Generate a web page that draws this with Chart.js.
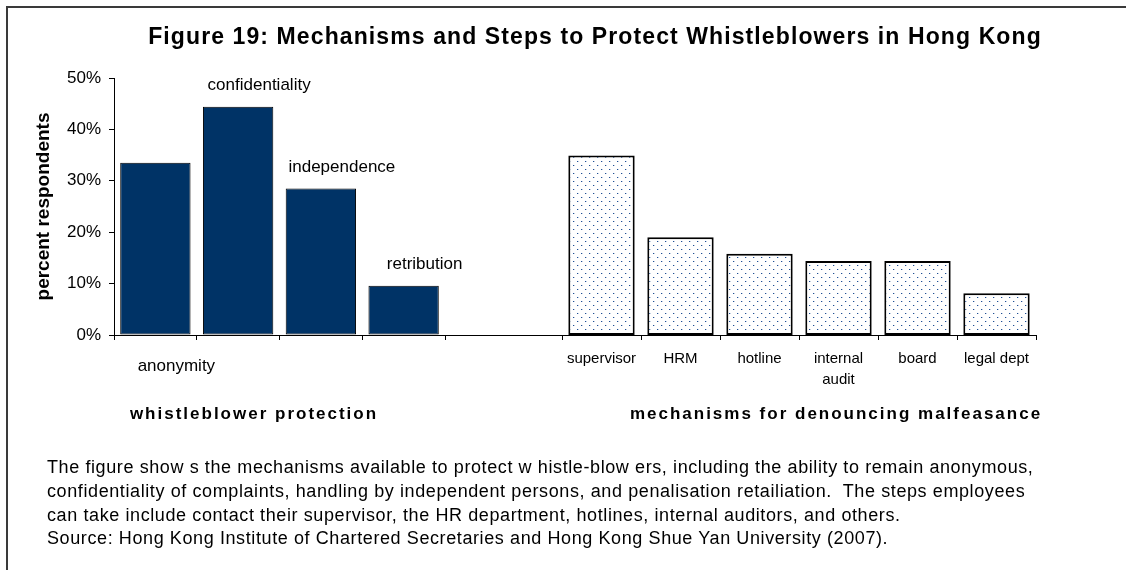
<!DOCTYPE html>
<html>
<head>
<meta charset="utf-8">
<script src="https://cdn.jsdelivr.net/npm/chart.js@4.4.1/dist/chart.umd.min.js"></script>
<style>
html,body{margin:0;padding:0;background:#fff;width:1126px;height:570px;overflow:hidden;}
#wrap{position:relative;width:1126px;height:570px;font-family:"Liberation Sans",Arial,sans-serif;color:#000;}
canvas{position:absolute;left:0;top:0;}
.frame{position:absolute;left:6px;top:6px;width:1200px;height:600px;border-top:2px solid #3a3a3a;border-left:2px solid #3a3a3a;}
.title{position:absolute;top:23px;left:0;width:1190px;text-align:center;font-weight:bold;font-size:23px;letter-spacing:1.1px;white-space:nowrap;line-height:26px;}
.group{position:absolute;top:403px;width:500px;text-align:center;font-weight:bold;font-size:17px;letter-spacing:2px;white-space:nowrap;line-height:22px;}
.cap{position:absolute;left:47px;font-size:18px;letter-spacing:0.6px;white-space:pre;line-height:20px;}
</style>
</head>
<body>
<div id="wrap">
  <div class="frame"></div>
  <canvas id="c1" width="1126" height="570"></canvas>
  <canvas id="c2" width="1126" height="570"></canvas>
  <div class="title" id="title"></div>
  <div class="group" id="g1" style="left:4px"></div>
  <div class="group" id="g2" style="left:586px"></div>
  <div class="cap" id="cap0" style="top:457px"></div>
  <div class="cap" id="cap1" style="top:481px"></div>
  <div class="cap" id="cap2" style="top:505px"></div>
  <div class="cap" id="cap3" style="top:528px"></div>
</div>
<script>
// ---- data ----
const titleText = 'Figure 19: Mechanisms and Steps to Protect Whistleblowers in Hong Kong';
const yAxisTitle = 'percent respondents';
const protectionLabels = ['anonymity', 'confidentiality', 'independence', 'retribution'];
const protectionValues = [33.5, 44.4, 28.5, 9.6];
const mechanismLabels = ['supervisor', 'HRM', 'hotline', ['internal', 'audit'], 'board', 'legal dept'];
const mechanismValues = [34.9, 19.0, 15.8, 14.4, 14.4, 8.1];
const yMin = 0, yMax = 50, yStep = 10;
const groupTitles = ['whistleblower protection', 'mechanisms for denouncing malfeasance'];
const captionLines = [
  'The figure show s the mechanisms available to protect w histle-blow ers, including the ability to remain anonymous,',
  'confidentiality of complaints, handling by independent persons, and penalisation retailiation.  The steps employees',
  'can take include contact their supervisor, the HR department, hotlines, internal auditors, and others.',
  'Source: Hong Kong Institute of Chartered Secretaries and Hong Kong Shue Yan University (2007).'
];

// ---- text ----
document.getElementById('title').textContent = titleText;
document.getElementById('g1').textContent = groupTitles[0];
document.getElementById('g2').textContent = groupTitles[1];
captionLines.forEach((t, i) => { document.getElementById('cap' + i).textContent = t; });

// ---- layout ----
const FONT = '"Liberation Sans", Arial, sans-serif';
const W = 1126, H = 570;
const plotTop = 78, plotBottom = 335;
const leftArea = [114, 445];
const rightArea = [562, 1036];

// dotted pattern for second group
const pc = document.createElement('canvas');
pc.width = 8; pc.height = 8;
const pctx = pc.getContext('2d');
pctx.fillStyle = '#ffffff'; pctx.fillRect(0, 0, 8, 8);
pctx.fillStyle = '#1f4f95';
pctx.fillRect(1, 1, 1, 1); pctx.fillRect(5, 5, 1, 1);
pctx.fillStyle = '#c4d0e2';
pctx.fillRect(2, 1, 1, 1); pctx.fillRect(6, 5, 1, 1);
const dotPattern = pctx.createPattern(pc, 'repeat');

const barLabels = {
  id: 'barLabels',
  afterDatasetsDraw(chart) {
    const ctx = chart.ctx;
    const meta = chart.getDatasetMeta(0);
    ctx.save();
    ctx.font = '17px ' + FONT;
    ctx.fillStyle = '#000';
    ctx.textAlign = 'center';
    ctx.textBaseline = 'middle';
    meta.data.forEach((bar, i) => {
      const x = bar.x + 21;
      const y = i === 0 ? chart.chartArea.bottom + 31 : bar.y - 21;
      ctx.fillText(chart.data.labels[i], x, y);
    });
    ctx.restore();
  }
};

const leftChart = new Chart(document.getElementById('c1'), {
  type: 'bar',
  data: {
    labels: protectionLabels,
    datasets: [{
      data: protectionValues,
      backgroundColor: '#003366',
      borderColor: '#000',
      borderWidth: 1,
      borderSkipped: false,
      barPercentage: 0.85,
      categoryPercentage: 1
    }]
  },
  options: {
    responsive: false, animation: false, events: [],
    layout: { padding: { left: 0, top: plotTop, right: W - leftArea[1], bottom: H - plotBottom - 40 } },
    plugins: { legend: { display: false }, tooltip: { enabled: false } },
    scales: {
      x: {
        ticks: { display: false },
        grid: { drawOnChartArea: false, tickLength: 5, color: '#000', offset: true },
        border: { color: '#000', width: 1 },
        afterFit(s) { s.height = 40; }
      },
      y: {
        min: yMin, max: yMax,
        ticks: { stepSize: yStep, callback: v => v + '%', color: '#000', font: { family: FONT, size: 17 }, padding: 8 },
        grid: { drawOnChartArea: false, tickLength: 5, color: '#000' },
        border: { color: '#000', width: 1 },
        title: { display: true, text: yAxisTitle, color: '#000', font: { family: FONT, size: 19, weight: 'bold' }, padding: { top: 32, bottom: 0 } },
        afterFit(s) { s.width = leftArea[0]; }
      }
    }
  },
  plugins: [barLabels]
});

const connector = {
  id: 'connector',
  afterDraw(chart) {
    const ctx = chart.ctx;
    const y = Math.round(chart.chartArea.bottom - 0.5) + 0.5;
    ctx.save();
    ctx.strokeStyle = '#000';
    ctx.lineWidth = 1;
    ctx.beginPath();
    ctx.moveTo(leftChart.chartArea.right, y);
    ctx.lineTo(chart.chartArea.left, y);
    ctx.stroke();
    ctx.restore();
  }
};

new Chart(document.getElementById('c2'), {
  type: 'bar',
  data: {
    labels: mechanismLabels,
    datasets: [{
      data: mechanismValues,
      backgroundColor: dotPattern,
      borderColor: '#000',
      borderWidth: 2,
      borderSkipped: false,
      barPercentage: 0.84,
      categoryPercentage: 1
    }]
  },
  options: {
    responsive: false, animation: false, events: [],
    layout: { padding: { left: rightArea[0], top: plotTop, right: W - rightArea[1], bottom: H - plotBottom - 60 } },
    plugins: { legend: { display: false }, tooltip: { enabled: false } },
    scales: {
      x: {
        ticks: { color: '#000', font: { family: FONT, size: 15, lineHeight: 1.4 }, padding: 8, maxRotation: 0, autoSkip: false },
        grid: { drawOnChartArea: false, tickLength: 5, color: '#000', offset: true },
        border: { color: '#000', width: 1 },
        afterFit(s) { s.height = 60; }
      },
      y: { display: false, min: yMin, max: yMax }
    }
  },
  plugins: [connector]
});
</script>
</body>
</html>
